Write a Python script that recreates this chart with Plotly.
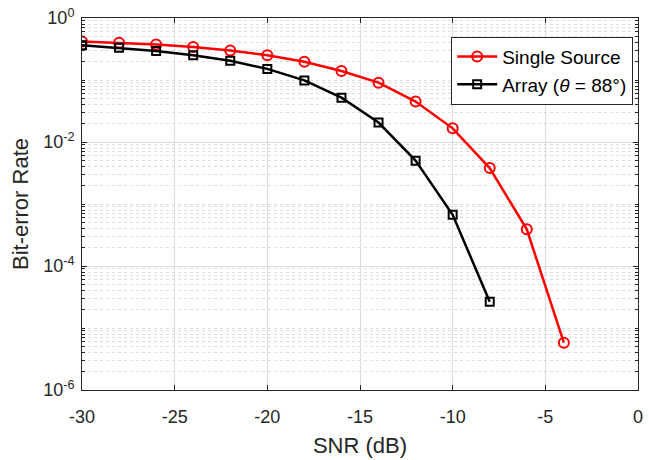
import plotly.graph_objects as go

snr_single = [-30, -28, -26, -24, -22, -20, -18, -16, -14, -12, -10, -8, -6, -4]
ber_single = [0.418, 0.40, 0.374, 0.34, 0.298, 0.251, 0.197, 0.140, 0.0906,
              0.0449, 0.0166, 0.0038, 3.9e-4, 5.8e-6]

snr_array = [-30, -28, -26, -24, -22, -20, -18, -16, -14, -12, -10, -8]
ber_array = [0.365, 0.332, 0.294, 0.251, 0.204, 0.151, 0.0986, 0.0519,
             0.0206, 0.0050, 6.7e-4, 2.65e-5]

x_ticks = [-30, -25, -20, -15, -10, -5, 0]
x_ticktext = ["-30", "-25", "-20", "-15", "-10", "-5", "0"]
y_ticks = [1, 1e-2, 1e-4, 1e-6]
y_ticktext = ["10<sup>0</sup>", "10<sup>-2</sup>", "10<sup>-4</sup>", "10<sup>-6</sup>"]

y_minor = []
for e in range(-6, 0):
    for m in range(1, 10):
        v = m * 10 ** e
        if m == 1 and e % 2 == 0:
            continue
        y_minor.append(v)

font = "Liberation Sans, Arial, sans-serif"

fig = go.Figure()
fig.add_trace(go.Scatter(
    x=snr_single, y=ber_single, mode="lines+markers", name="Single Source",
    line=dict(color="#ff0000", width=2.5),
    marker=dict(symbol="circle-open", size=10, color="#ff0000", line=dict(width=2)),
))
fig.add_trace(go.Scatter(
    x=snr_array, y=ber_array, mode="lines+markers",
    name="Array (<i>θ</i> = 88°)",
    line=dict(color="#000000", width=2.5),
    marker=dict(symbol="square-open", size=8, color="#000000", line=dict(width=2)),
))

fig.update_layout(
    width=649, height=460,
    margin=dict(l=82, r=6, t=14, b=66),
    paper_bgcolor="white", plot_bgcolor="white",
    font=dict(family=font, size=18, color="#262626"),
    showlegend=True,
    legend=dict(x=0.664, y=0.95, xanchor="left", yanchor="top",
                bgcolor="white", bordercolor="#262626", borderwidth=1,
                font=dict(size=19, color="#000000"),
                tracegroupgap=0, itemwidth=40),
)
fig.update_xaxes(
    range=[-30, 0], tickmode="array", tickvals=x_ticks, ticktext=x_ticktext,
    ticks="inside", ticklen=5, tickcolor="#262626",
    showline=True, linecolor="#262626", linewidth=1, mirror="ticks",
    showgrid=True, gridcolor="#dcdcdc", gridwidth=1,
    zeroline=False, ticklabelstandoff=10,
    title=dict(text="SNR (dB)", font=dict(size=22), standoff=12),
    tickfont=dict(size=18),
)
fig.update_yaxes(
    type="log", range=[-6, 0], tickmode="array", tickvals=y_ticks,
    ticktext=y_ticktext,
    ticks="inside", ticklen=5, tickcolor="#262626",
    showline=True, linecolor="#262626", linewidth=1, mirror="ticks",
    showgrid=True, gridcolor="#dcdcdc", gridwidth=1,
    zeroline=False, ticklabelstandoff=3,
    minor=dict(tickmode="array", tickvals=y_minor, ticks="inside", ticklen=3,
               tickcolor="#262626", showgrid=True, gridcolor="#dedede",
               griddash="dot", gridwidth=1),
    title=dict(text="Bit-error Rate", font=dict(size=22), standoff=8),
    tickfont=dict(size=18),
)

fig.write_html("out.html")
